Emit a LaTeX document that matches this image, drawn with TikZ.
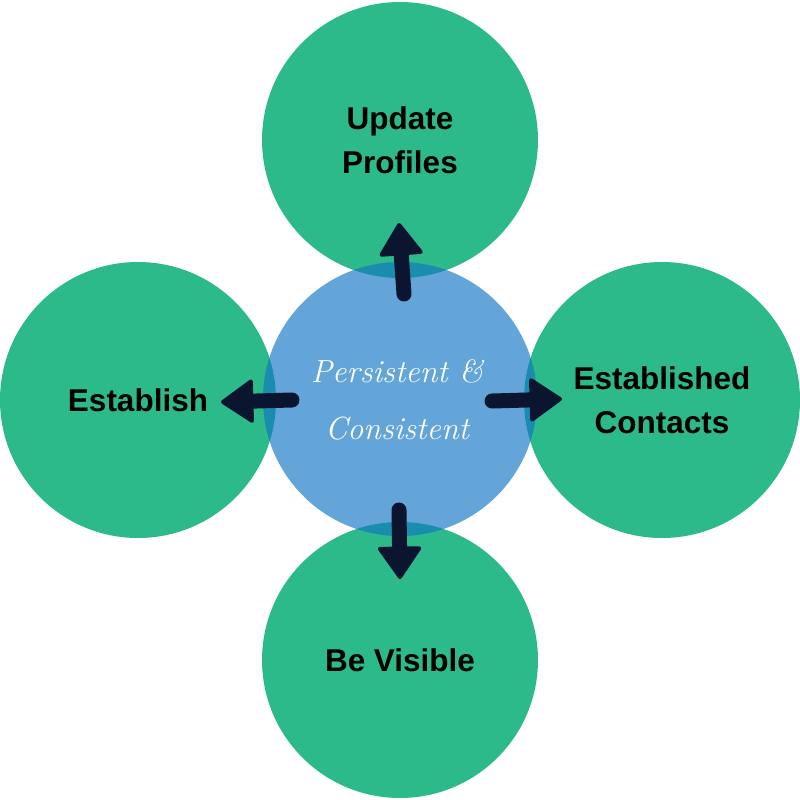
\documentclass[tikz,border=0pt]{standalone}
\usepackage{fontspec}
\usetikzlibrary{arrows.meta}
\newfontfamily\labelf{Liberation Sans}
\definecolor{cgreen}{HTML}{2DBA8A}
\definecolor{cblue}{HTML}{1075C3}
\definecolor{cnavy}{HTML}{0B1530}
\tikzset{
  outer/.style={circle, fill=cgreen, minimum size=276pt, inner sep=0pt,
    align=center, font=\labelf\bfseries\fontsize{31.5}{44}\selectfont, text=black},
  hub/.style={circle, fill=cblue, fill opacity=0.65, minimum size=274pt, inner sep=0pt},
  hubtext/.style={text=white, align=center, font=\itshape\fontsize{32}{57}\selectfont},
  arr/.style={draw=cnavy, line width=15pt, line cap=round,
    -{Triangle[width=46pt,length=34pt,line width=4pt,round]}},
}
\begin{document}
\begin{tikzpicture}[x=1pt,y=-1pt]
\useasboundingbox (0,0) rectangle (800,800);
\node[outer] (top) at (400,140) {Update\\Profiles};
\node[outer] (left) at (138,400) {Establish};
\node[outer] (right) at (662,400) {Established\\Contacts};
\node[outer] (bottom) at (400,660) {Be Visible};
\node[hub] (hub) at (400,399) {};
\node[hubtext] (hubtext) at (397,400) {Persistent \&\\Consistent};
\coordinate (us) at (404,294); \coordinate (ue) at (399,223);
\coordinate (ls) at (292,400); \coordinate (le) at (221,402);
\coordinate (rs) at (492,401); \coordinate (re) at (562,399);
\coordinate (ds) at (399,510); \coordinate (de) at (400,579);
\draw[arr] (us) -- (ue);
\draw[arr] (ls) -- (le);
\draw[arr] (rs) -- (re);
\draw[arr] (ds) -- (de);
\end{tikzpicture}
\end{document}
